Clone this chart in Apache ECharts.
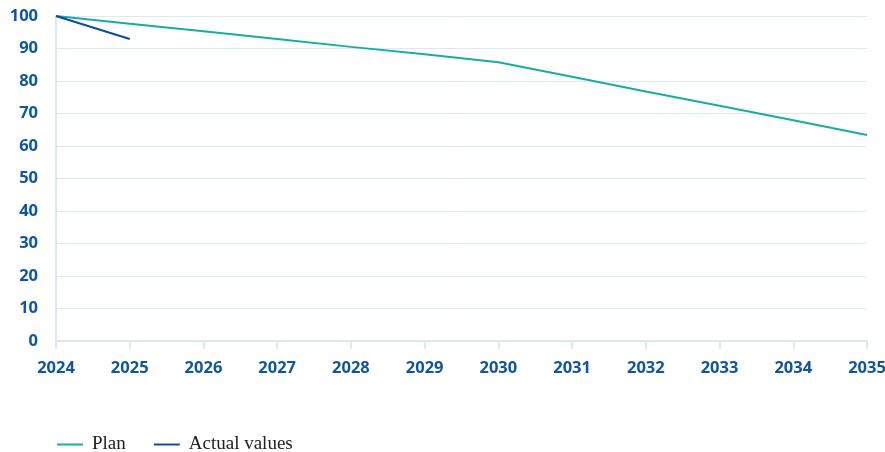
<!DOCTYPE html>
<html>
<head>
<meta charset="utf-8">
<script src="https://cdn.jsdelivr.net/npm/echarts@6/dist/echarts.min.js"></script>
<style>
  html, body { margin: 0; padding: 0; background: #fff; }
  #chart { width: 885px; height: 452px; }
</style>
</head>
<body>
<div id="chart"></div>
<script>
// years along the x axis
const years = ['2024', '2025', '2026', '2027', '2028', '2029', '2030', '2031', '2032', '2033', '2034', '2035'];
// plan path
const planValues = [100, 97.6, 95.3, 92.9, 90.5, 88.2, 85.8, 81.3, 76.8, 72.4, 67.9, 63.4];
// actual values so far
const actualValues = [100, 92.9, null, null, null, null, null, null, null, null, null, null];

const blue = '#0f55a0';
const gridLine = '#dce8f2';

var myChart = echarts.init(document.getElementById('chart'));

let option = {
  animation: false,
  grid: { left: 56, right: 18, top: 16, bottom: 111, outerBoundsMode: 'none', containLabel: false },
  legend: {
    left: 52,
    top: 430,
    itemWidth: 26,
    itemHeight: 2,
    itemGap: 28,
    icon: 'rect',
    textStyle: { fontFamily: 'Liberation Serif', fontSize: 19, color: '#222', padding: [0, 0, 0, 4] },
    data: ['Plan', 'Actual values']
  },
  xAxis: {
    type: 'category',
    boundaryGap: false,
    data: years,
    axisLine: { lineStyle: { color: gridLine, width: 2 } },
    axisTick: { show: true, length: 8, lineStyle: { color: gridLine, width: 2 } },
    axisLabel: { color: blue, fontWeight: 'bold', fontSize: 16.5, fontFamily: 'Open Sans', margin: 19 }
  },
  yAxis: {
    type: 'value',
    min: 0,
    max: 100,
    interval: 10,
    axisLine: { show: true, lineStyle: { color: gridLine, width: 2 } },
    axisTick: { show: false },
    splitLine: { lineStyle: { color: gridLine, width: 1 } },
    axisLabel: { color: blue, fontWeight: 'bold', fontSize: 16.5, fontFamily: 'Open Sans', margin: 18 }
  },
  series: [
    {
      name: 'Plan',
      type: 'line',
      data: planValues,
      symbol: 'none',
      lineStyle: { color: '#17aea0', width: 2 },
      itemStyle: { color: '#17aea0' }
    },
    {
      name: 'Actual values',
      type: 'line',
      data: actualValues,
      symbol: 'none',
      lineStyle: { color: '#0d4e9c', width: 2 },
      itemStyle: { color: '#0d4e9c' }
    }
  ]
};
myChart.setOption(option);
</script>
</body>
</html>
